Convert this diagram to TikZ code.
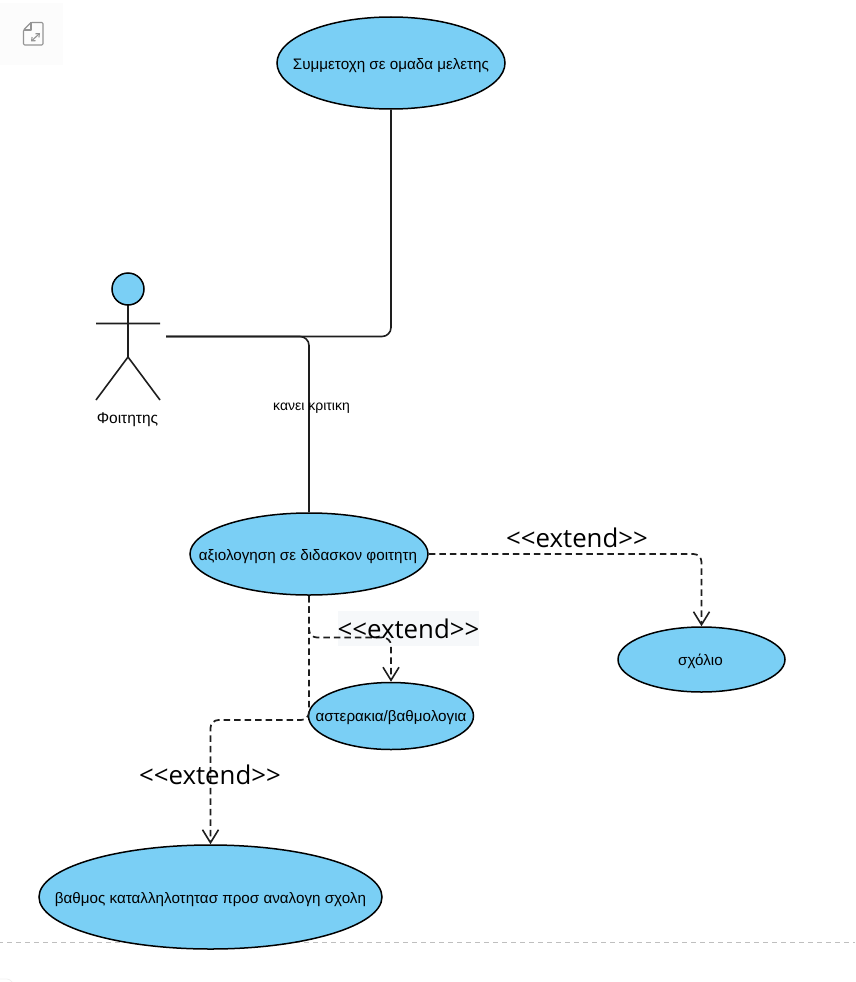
\documentclass[tikz,border=0pt]{standalone}
\usepackage{fontspec}
\setmainfont{Liberation Sans}
\newfontfamily\extfont{Open Sans}
\usetikzlibrary{shapes.geometric,arrows.meta}
\definecolor{ucfill}{HTML}{7ACFF5}
\definecolor{labelbg}{HTML}{F6F8FA}
\definecolor{linecol}{HTML}{1E1E1E}
\tikzset{
  x=1pt,y=-1pt,
  usecase/.style={ellipse,draw=black,fill=ucfill,line width=1.5pt,inner sep=0pt},
  uctext/.style={font=\fontsize{15.2}{17}\selectfont,text=black,inner sep=0pt},
  assoc/.style={draw=linecol,line width=1.6pt,rounded corners=9pt},
  extendline/.style={draw=linecol,line width=1.7pt,dash pattern=on 6.5pt off 4pt,rounded corners=8pt,-{Straight Barb[length=13pt,width=16pt,line width=1.6pt]}},
  extendlabel/.style={font=\extfont\fontsize{25.8}{30}\selectfont,text=black,inner sep=0pt},
  smalllabel/.style={font=\fontsize{14}{16}\selectfont,text=black,inner sep=0pt},
  stick/.style={draw=linecol,line width=1.6pt},
  iconline/.style={draw=black!42,line width=1.1pt,line join=round}
}
\begin{document}
\begin{tikzpicture}
\useasboundingbox (0,0) rectangle (855,982);
% corner icon
\fill[black!1.2] (0,3) rectangle (63,65);
\draw[iconline,rounded corners=1.2pt] (31,22.5) -- (43,22.5) -- (43,45) -- (23.5,45) -- (23.5,30) -- cycle;
\draw[iconline] (31,22.5) -- (31,30) -- (23.5,30);
\draw[iconline,{Straight Barb[length=3pt,width=5pt]}-{Straight Barb[length=3pt,width=5pt]}] (31,41.5) -- (40,33);
% page separator
\draw[black!25,line width=1pt,dash pattern=on 5pt off 4pt] (-2,942.5) -- (855,942.5);
\draw[black!6,line width=.8pt,rounded corners=3pt] (0,979) -- (10,979) -- (12,982);
% labels' background
\node[fill=labelbg,minimum width=141pt,minimum height=35pt,inner sep=0pt] (extbgb) at (408.5,628) {};
% use cases
\node[usecase,minimum width=228pt,minimum height=92pt] (study) at (391,63) {};
\node[uctext] (studytext) at (391,65.5) {Συμμετοχη σε ομαδα μελετης};
\node[usecase,minimum width=238pt,minimum height=82pt] (review) at (309,554) {};
\node[uctext] (reviewtext) at (308,556.5) {αξιολογηση σε διδασκον φοιτητη};
\node[usecase,minimum width=167pt,minimum height=65pt] (comment) at (701.5,659.5) {};
\node[uctext] (commenttext) at (700.5,661.5) {σχόλιο};
\node[usecase,minimum width=165pt,minimum height=67pt] (stars) at (391,716) {};
\node[uctext] (starstext) at (391,718) {αστερακια/βαθμολογια};
\node[usecase,minimum width=343pt,minimum height=104pt] (grade) at (210.5,897) {};
\node[uctext] (gradetext) at (210.5,899.5) {βαθμος καταλληλοτητασ προσ αναλογη σχολη};
% actor
\draw[stick] (128,305) -- (128,357) (96,323.5) -- (160,323.5) (96,400) -- (128,357) -- (160,400);
\node[circle,draw=black,fill=ucfill,line width=1.5pt,minimum size=32pt,inner sep=0pt] (head) at (128,289) {};
\node[smalllabel,font=\fontsize{15.5}{17}\selectfont] (actorname) at (127.5,419.5) {Φοιτητης};
\coordinate (hand) at (166,336.5);
% coordinates of the dashed bends
\coordinate (bendstars) at (309,637.5);
\coordinate (bendgrade) at (309,720);
% associations
\draw[assoc] (hand) -| (study.south);
\draw[assoc] (hand) -| (review.north);
% extends
\path[extendline] (review.east) -| (comment.north);
\path[extendline] (review.south) -- (bendstars) -| (stars.north);
\path[extendline] (review.south) -- (bendgrade) -| (grade.north);
% labels
\node[smalllabel] (critic) at (311.5,408.5) {κανει κριτικη};
\node[extendlabel] (extc) at (577,538) {<{}<extend>{}>};
\node[extendlabel] (exts) at (408.5,628.5) {<{}<extend>{}>};
\node[extendlabel] (extg) at (210,774.5) {<{}<extend>{}>};
\end{tikzpicture}
\end{document}
